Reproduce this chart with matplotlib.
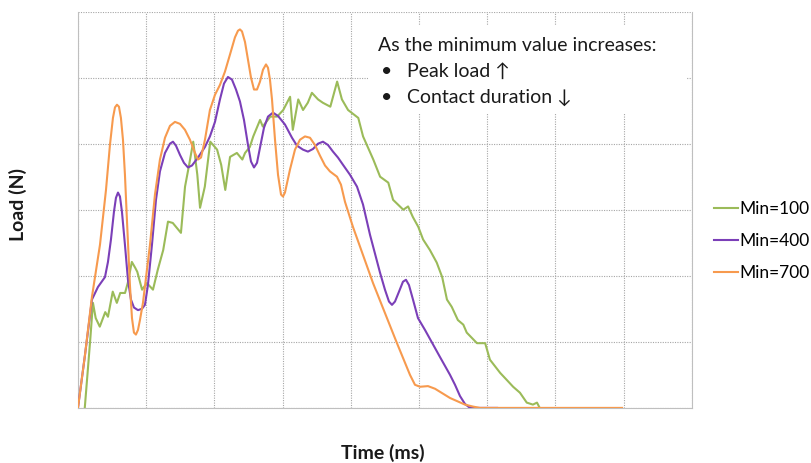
"""Load-time curves for three minimum-value settings."""

import matplotlib

matplotlib.use("Agg")
import matplotlib.pyplot as plt
from matplotlib.patches import Rectangle

# Time in ms, load in N
t_min100 = [0.10, 0.18, 0.22, 0.26, 0.32, 0.40, 0.44, 0.51, 0.57, 0.62, 0.69, 0.73,
            0.79, 0.84, 0.87, 0.94, 1.01, 1.10, 1.17, 1.25, 1.32, 1.39, 1.51, 1.57,
            1.63, 1.69, 1.75, 1.79, 1.86, 1.94, 2.04, 2.10, 2.16, 2.23, 2.33, 2.41,
            2.45, 2.52, 2.57, 2.67, 2.71, 2.82, 2.92, 3.01, 3.11, 3.15, 3.23, 3.30,
            3.37, 3.43, 3.52, 3.59, 3.70, 3.80, 3.87, 3.96, 4.11, 4.18, 4.33, 4.43,
            4.55, 4.62, 4.77, 4.84, 4.91, 4.99, 5.06, 5.16, 5.26, 5.34, 5.41, 5.48,
            5.57, 5.65, 5.70, 5.85, 5.97, 6.04, 6.19, 6.29, 6.38, 6.48, 6.58, 6.67,
            6.73, 6.77]
load_min100 = [0, 103, 159, 136, 123, 145, 138, 176, 159, 174, 174, 189,
               221, 212, 206, 179, 189, 179, 209, 239, 282, 280, 265, 335,
               368, 403, 353, 303, 335, 403, 391, 368, 330, 380, 386, 376,
               386, 395, 411, 436, 426, 441, 441, 451, 471, 421, 467, 451,
               462, 477, 467, 462, 456, 494, 467, 451, 439, 411, 376, 350,
               341, 315, 300, 305, 289, 274, 255, 239, 220, 198, 164, 153,
               133, 126, 114, 98, 98, 73, 53, 42, 32, 23, 8, 5,
               8, 0]

t_min400 = [0.000, 0.103, 0.205, 0.293, 0.396, 0.440, 0.484, 0.528, 0.557, 0.587,
            0.616, 0.645, 0.689, 0.733, 0.777, 0.821, 0.880, 0.938, 0.982, 1.026,
            1.085, 1.144, 1.202, 1.276, 1.349, 1.393, 1.437, 1.496, 1.554, 1.613,
            1.672, 1.760, 1.862, 1.935, 2.009, 2.082, 2.141, 2.199, 2.258, 2.317,
            2.375, 2.434, 2.493, 2.537, 2.581, 2.625, 2.669, 2.727, 2.786, 2.859,
            2.933, 3.035, 3.138, 3.211, 3.299, 3.372, 3.446, 3.519, 3.592, 3.666,
            3.739, 3.812, 3.886, 3.988, 4.091, 4.179, 4.282, 4.428, 4.501, 4.560,
            4.604, 4.648, 4.707, 4.765, 4.809, 4.853, 4.912, 4.985, 5.088, 5.308,
            5.455, 5.528, 5.601, 5.674, 5.748, 6.144]
load_min400 = [0, 80, 164, 183, 198, 221, 255, 297, 318, 326,
               320, 297, 247, 194, 164, 152, 148, 150, 156, 186,
               247, 315, 358, 386, 400, 403, 397, 383, 371, 364,
               367, 379, 395, 411, 433, 467, 491, 501, 497, 482,
               464, 436, 398, 373, 364, 371, 394, 424, 441, 447,
               442, 429, 409, 397, 391, 388, 392, 400, 403, 398,
               388, 379, 368, 353, 335, 308, 262, 205, 179, 161,
               156, 161, 176, 191, 194, 186, 164, 136, 118, 77,
               50, 35, 18, 6, 0, 0]

t_min700 = [0.000, 0.103, 0.205, 0.323, 0.411, 0.469, 0.513, 0.543, 0.572, 0.601,
            0.630, 0.660, 0.689, 0.718, 0.762, 0.792, 0.821, 0.850, 0.880, 0.909,
            0.953, 1.056, 1.129, 1.202, 1.276, 1.349, 1.422, 1.496, 1.569, 1.642,
            1.716, 1.760, 1.804, 1.862, 1.935, 2.009, 2.082, 2.155, 2.229, 2.302,
            2.346, 2.375, 2.405, 2.449, 2.493, 2.537, 2.581, 2.625, 2.669, 2.713,
            2.757, 2.786, 2.815, 2.845, 2.889, 2.933, 2.977, 3.006, 3.035, 3.109,
            3.182, 3.255, 3.328, 3.402, 3.475, 3.548, 3.622, 3.695, 3.798, 3.856,
            3.915, 4.032, 4.326, 4.677, 4.868, 4.941, 5.015, 5.132, 5.235, 5.455,
            5.674, 5.792, 5.894, 7.977]
load_min700 = [0, 80, 168, 247, 330, 398, 439, 455, 459, 456,
               439, 406, 353, 285, 186, 136, 114, 111, 118, 133,
               159, 247, 323, 376, 409, 427, 433, 430, 421, 406,
               386, 376, 379, 406, 451, 474, 489, 509, 535, 561,
               571, 573, 570, 554, 527, 500, 482, 482, 494, 512,
               520, 515, 497, 467, 406, 353, 323, 320, 326, 361,
               391, 406, 411, 409, 398, 382, 367, 358, 350, 338,
               312, 274, 189, 98, 50, 35, 32, 33, 29, 15,
               5, 2, 0, 0]

series_labels = ["Min=100", "Min=400", "Min=700"]
series_colors = ["#9BBB59", "#7B3FB8", "#F79A4E"]

note_title = "As the minimum value increases:"
note_items = ["Peak load \u2191", "Contact duration \u2193"]

plt.rcParams["font.family"] = ["Lato", "DejaVu Sans"]

fig = plt.figure(figsize=(8.12, 4.63), dpi=100)
ax = fig.add_axes([0.096, 0.119, 0.756, 0.856])

curves = [(t_min100, load_min100), (t_min400, load_min400), (t_min700, load_min700)]
for (t, load), label, color in zip(curves, series_labels, series_colors):
    ax.plot(t, load, color=color, linewidth=1.5, label=label, zorder=3,
            solid_joinstyle="round")

ax.set_xlim(0, 9)
ax.set_ylim(0, 600)
ax.set_xticks(range(0, 10))
ax.set_yticks(range(0, 601, 100))
ax.tick_params(length=0, labelleft=False, labelbottom=False)
ax.grid(True, color="#A6A6A6", linestyle=(0, (1, 1.2)), linewidth=0.8)
ax.set_axisbelow(True)
for side in ("left", "bottom", "right"):
    ax.spines[side].set_color("#BFBFBF")
ax.spines["top"].set_visible(False)

# white note box sitting over the grid
ax.add_patch(Rectangle((4.25, 447), 4.68, 133, facecolor="white",
                       edgecolor="none", zorder=2))
ax.text(4.40, 549, note_title, fontsize=14, va="center", ha="left",
        color="#1A1A1A", zorder=4)
for y, item in zip([509, 470], note_items):
    ax.text(4.45, y, "\u2022", fontsize=14, va="center", ha="left",
            color="#1A1A1A", zorder=4)
    ax.text(4.82, y, item, fontsize=14, va="center", ha="left",
            color="#1A1A1A", zorder=4)

ax.set_xlabel("Time (ms)", fontsize=14, fontweight="bold", color="#1A1A1A")
ax.set_ylabel("Load (N)", fontsize=14, fontweight="bold", color="#1A1A1A")
ax.xaxis.set_label_coords(0.497, -0.092)
ax.yaxis.set_label_coords(-0.083, 0.514)

ax.legend(loc="center left", bbox_to_anchor=(1.025, 0.421), frameon=False,
          fontsize=12.5, handlelength=1.4, handletextpad=0.05,
          labelspacing=0.9, borderaxespad=0)

fig.savefig("out.png", dpi=100)
